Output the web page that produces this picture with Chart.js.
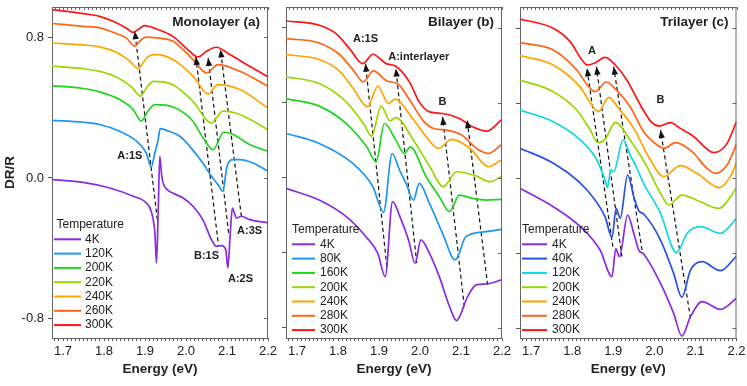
<!DOCTYPE html>
<html>
<head>
<meta charset="utf-8">
<script src="https://cdn.jsdelivr.net/npm/chart.js@4.4.1/dist/chart.umd.min.js"></script>
<style>
  html, body { margin: 0; padding: 0; background: #fff; }
  #wrap { position: relative; width: 747px; height: 386px; }
  #wrap canvas { position: absolute; left: 0; top: 0; }
</style>
</head>
<body>
<div id="wrap">
  <canvas id="panelA" width="747" height="386"></canvas>
  <canvas id="panelB" width="747" height="386"></canvas>
  <canvas id="panelC" width="747" height="386"></canvas>
</div>
<script>
// tick labels
const energyTicks = ['1.7', '1.8', '1.9', '2.0', '2.1', '2.2'];
const monoTicks = [-0.8, 0.0, 0.8];
const multiTicks = [-2, -1, 0, 1, 2];

// (a) monolayer, DR/R vs energy (eV)
const monoTemps = ['4K', '120K', '200K', '220K', '240K', '260K', '300K'];
const monoE4K = [1.673,1.749,1.814,1.871,1.903,1.915,1.924,1.928,1.932,1.936,1.940,1.944,1.956,1.964,1.976,1.993,2.017,2.041,2.062,2.074,2.086,2.097,2.102,2.108,2.113,2.123,2.135,2.155,2.2];
const monoR4K = [-0.009,-0.025,-0.057,-0.104,-0.142,-0.190,-0.313,-0.484,-0.199,0.123,0.028,-0.028,-0.070,-0.082,-0.095,-0.114,-0.161,-0.237,-0.351,-0.389,-0.385,-0.408,-0.512,-0.313,-0.171,-0.228,-0.218,-0.237,-0.256];
const monoE120K = [1.673,1.749,1.789,1.838,1.879,1.903,1.915,1.924,1.932,1.937,1.952,1.985,2.009,2.041,2.062,2.078,2.090,2.100,2.115,2.131,2.163,2.2];
const monoR120K = [0.328,0.317,0.304,0.266,0.209,0.142,0.063,0.142,0.218,0.281,0.271,0.237,0.180,0.085,0.009,-0.038,-0.076,0.066,0.104,0.104,0.085,0.038];
const monoE200K = [1.673,1.749,1.789,1.838,1.871,1.891,1.907,1.924,1.968,2.017,2.041,2.066,2.092,2.115,2.155,2.2];
const monoR200K = [0.526,0.509,0.490,0.446,0.389,0.323,0.380,0.417,0.404,0.323,0.230,0.161,0.260,0.247,0.190,0.152];
const monoE220K = [1.673,1.749,1.789,1.830,1.867,1.889,1.903,1.920,1.968,2.017,2.062,2.090,2.131,2.2];
const monoR220K = [0.636,0.622,0.607,0.575,0.518,0.465,0.512,0.550,0.531,0.436,0.313,0.380,0.361,0.275];
const monoE240K = [1.673,1.749,1.789,1.830,1.863,1.883,1.895,1.911,1.928,1.968,2.017,2.054,2.078,2.131,2.2];
const monoR240K = [0.768,0.757,0.746,0.715,0.664,0.622,0.655,0.696,0.702,0.674,0.579,0.478,0.531,0.503,0.398];
const monoE260K = [1.673,1.749,1.789,1.822,1.854,1.875,1.887,1.903,1.928,1.968,2.017,2.050,2.078,2.131,2.2];
const monoR260K = [0.879,0.863,0.854,0.829,0.797,0.750,0.778,0.801,0.797,0.778,0.674,0.598,0.645,0.607,0.522];
const monoE300K = [1.673,1.749,1.789,1.822,1.854,1.871,1.885,1.899,1.928,1.968,2.009,2.029,2.050,2.074,2.107,2.155,2.2];
const monoR300K = [0.958,0.935,0.920,0.892,0.854,0.829,0.848,0.867,0.848,0.806,0.721,0.689,0.721,0.744,0.702,0.636,0.575];
// dashed arrows: [E start, R start, E tip, R tip]
const monoArrows = [[1.930,-0.237,1.875,0.835],[2.078,-0.361,2.024,0.689],[2.104,-0.313,2.054,0.683],[2.135,-0.218,2.084,0.731]];
const monoNotes = [['A:1S',1.863,0.127],['B:1S',2.050,-0.442],['A:2S',2.133,-0.575],['A:3S',2.155,-0.304]];

// (b) bilayer, offset spectra (arb. units)
const biTemps = ['4K', '80K', '160K', '200K', '240K', '280K', '300K'];
const biE4K = [1.673,1.754,1.820,1.868,1.897,1.915,1.933,1.951,1.972,1.988,2.002,2.023,2.047,2.072,2.089,2.116,2.137,2.161,2.2];
const biR4K = [-0.142,-0.298,-0.520,-0.787,-1.009,-1.320,-0.320,-0.520,-0.831,-1.142,-0.831,-1.009,-1.320,-1.720,-1.907,-1.587,-1.431,-1.418,-1.364];
const biE80K = [1.673,1.754,1.836,1.885,1.911,1.932,1.950,1.966,1.984,1.998,2.023,2.055,2.086,2.112,2.161,2.2];
const biR80K = [0.591,0.458,0.191,-0.120,-0.462,0.324,0.102,-0.076,-0.298,-0.076,-0.342,-0.742,-1.098,-0.787,-0.720,-0.689];
const biE160K = [1.673,1.754,1.820,1.870,1.893,1.913,1.941,1.962,1.976,2.015,2.047,2.072,2.096,2.128,2.163,2.2];
const biR160K = [1.058,0.956,0.724,0.413,0.213,0.724,0.502,0.324,0.413,0.013,-0.253,-0.453,-0.231,-0.276,-0.298,-0.289];
const biE200K = [1.673,1.754,1.820,1.862,1.882,1.905,1.927,1.941,1.984,2.024,2.057,2.089,2.138,2.171,2.2];
const biR200K = [1.347,1.258,1.013,0.724,0.556,0.956,0.760,0.804,0.502,0.147,-0.120,0.080,0.022,-0.053,0.022];
const biE240K = [1.673,1.754,1.803,1.837,1.872,1.897,1.923,1.939,1.982,2.015,2.045,2.077,2.122,2.167,2.2];
const biR240K = [1.644,1.578,1.427,1.191,0.947,1.222,0.991,1.049,0.791,0.547,0.391,0.511,0.391,0.147,0.244];
const biE280K = [1.673,1.754,1.803,1.836,1.862,1.886,1.919,1.947,1.980,2.008,2.033,2.065,2.102,2.138,2.167,2.2];
const biR280K = [1.858,1.800,1.649,1.444,1.280,1.427,1.293,1.249,0.991,0.760,0.658,0.636,0.569,0.391,0.324,0.449];
const biE300K = [1.673,1.754,1.795,1.828,1.860,1.885,1.917,1.941,1.974,1.998,2.023,2.055,2.096,2.128,2.163,2.2];
const biR300K = [2.093,2.036,1.924,1.724,1.524,1.649,1.524,1.489,1.280,1.013,0.880,0.858,0.791,0.680,0.622,0.782];
const biArrows = [[1.919,-1.187,1.867,1.524],[1.992,-1.142,1.941,1.458],[2.108,-1.720,2.055,0.813],[2.165,-1.431,2.115,0.769]];
const biNotes = [['A:1S',1.867,1.858],['A:interlayer',1.997,1.613],['B',2.055,1.013]];

// (c) trilayer
const triTemps = ['4K', '40K', '120K', '200K', '240K', '280K', '300K'];
const triE4K = [1.673,1.754,1.820,1.868,1.897,1.906,1.915,1.935,1.950,1.962,1.974,2.015,2.047,2.067,2.088,2.116,2.161,2.2];
const triR4K = [-0.138,-0.382,-0.649,-0.960,-1.316,-0.942,-1.049,-0.493,-0.738,-0.960,-1.013,-1.404,-1.804,-2.107,-1.849,-1.649,-1.751,-1.604];
const triE40K = [1.673,1.754,1.836,1.880,1.897,1.907,1.917,1.935,1.950,1.962,1.974,2.015,2.047,2.067,2.088,2.116,2.161,2.2];
const triR40K = [0.396,0.196,-0.160,-0.516,-0.791,-0.404,-0.538,0.040,-0.249,-0.436,-0.480,-0.827,-1.271,-1.591,-1.227,-1.116,-1.236,-1.040];
const triE120K = [1.673,1.754,1.820,1.860,1.880,1.886,1.894,1.901,1.924,1.941,1.954,1.974,2.015,2.054,2.080,2.112,2.161,2.2];
const triR120K = [0.907,0.751,0.507,0.240,-0.027,-0.124,0.107,0.084,0.507,0.307,0.173,-0.071,-0.471,-0.996,-0.738,-0.649,-0.738,-0.538];
const triE200K = [1.673,1.754,1.811,1.844,1.863,1.880,1.905,1.941,1.982,2.015,2.035,2.067,2.112,2.157,2.2];
const triR200K = [1.307,1.151,0.907,0.640,0.471,0.516,0.742,0.507,0.151,-0.204,-0.360,-0.227,-0.316,-0.404,-0.138];
const triE240K = [1.673,1.754,1.820,1.848,1.864,1.889,1.913,1.950,1.986,2.023,2.063,2.104,2.157,2.185,2.2];
const triR240K = [1.631,1.507,1.209,0.973,0.884,1.076,0.929,0.662,0.284,0.018,0.164,0.062,-0.129,0.018,0.209];
const triE280K = [1.673,1.754,1.811,1.840,1.856,1.883,1.909,1.941,1.974,2.007,2.024,2.051,2.092,2.128,2.149,2.177,2.2];
const triR280K = [1.804,1.707,1.440,1.218,1.151,1.280,1.164,0.951,0.618,0.440,0.396,0.471,0.351,0.129,0.062,0.173,0.453];
const triE300K = [1.673,1.754,1.795,1.824,1.837,1.854,1.880,1.905,1.933,1.966,1.994,2.013,2.039,2.063,2.096,2.145,2.177,2.2];
const triR300K = [2.120,1.996,1.818,1.573,1.507,1.529,1.609,1.507,1.307,0.973,0.738,0.693,0.738,0.662,0.551,0.338,0.462,0.751];
const triArrows = [[1.899,-0.916,1.836,1.462],[1.921,-1.049,1.859,1.484],[1.970,-0.960,1.901,1.484],[2.088,-1.871,2.015,0.640]];
const triNotes = [['A',1.848,1.698],['B',2.015,1.040]];

const PURPLE = '#8a2be2', SKY = '#1e96f0', BLUE = '#2b50e8', CYAN = '#10d8e0',
      GREEN = '#20d420', LIME = '#98d800', ORANGE = '#ffa500', ORED = '#ff6418', RED = '#ff1414';

const FONT = '"Liberation Sans", Arial, sans-serif';

function curve(label, color, E, R) {
  return {
    label: label,
    data: E.map((e, i) => ({ x: e, y: R[i] })),
    borderColor: color,
    borderWidth: 1.7,
    pointRadius: 0,
    cubicInterpolationMode: 'monotone',
    fill: false
  };
}

function arrow(a) {
  return {
    arrow: true,
    data: [{ x: a[0], y: a[1] }, { x: a[2], y: a[3] }],
    borderColor: '#111',
    borderWidth: 1.2,
    borderDash: [4, 3],
    pointRadius: 0,
    tension: 0
  };
}

// top/right frame with inward ticks
const framePlugin = {
  id: 'frame',
  afterDraw(chart) {
    const { ctx, chartArea: a, scales: { x, y } } = chart;
    ctx.save();
    ctx.strokeStyle = '#666';
    ctx.lineWidth = 1;
    ctx.beginPath();
    ctx.moveTo(a.left, a.top + 0.5); ctx.lineTo(a.right, a.top + 0.5);
    ctx.moveTo(a.right - 0.5, a.top); ctx.lineTo(a.right - 0.5, a.bottom);
    x.ticks.forEach(t => {
      const px = Math.round(x.getPixelForValue(t.value)) + 0.5;
      ctx.moveTo(px, a.top); ctx.lineTo(px, a.top + 3);
    });
    y.ticks.forEach(t => {
      const py = Math.round(y.getPixelForValue(t.value)) + 0.5;
      ctx.moveTo(a.right, py); ctx.lineTo(a.right - 4, py);
    });
    ctx.stroke();
    ctx.restore();
  }
};

function tempLegend(top, dx, l0, l1, tx) {
  return {
    id: 'temps',
    afterDraw(chart) {
      const { ctx, chartArea: a } = chart;
      ctx.save();
      ctx.font = '12px ' + FONT;
      ctx.fillStyle = '#222';
      ctx.textAlign = 'left';
      ctx.textBaseline = 'middle';
      ctx.fillText('Temperature', a.left + dx, top);
      let row = 0;
      chart.data.datasets.forEach(ds => {
        if (ds.arrow) return;
        row++;
        const yy = top + row * 14.3;
        ctx.strokeStyle = ds.borderColor;
        ctx.lineWidth = 2;
        ctx.beginPath();
        ctx.moveTo(a.left + l0, yy); ctx.lineTo(a.left + l1, yy);
        ctx.stroke();
        ctx.fillText(ds.label, a.left + tx, yy);
      });
      ctx.restore();
    }
  };
}

function notesPlugin(notes, title) {
  return {
    id: 'notes',
    afterDatasetsDraw(chart) {
      const { ctx, chartArea: a, scales: { x, y } } = chart;
      ctx.save();
      ctx.fillStyle = '#111';
      chart.data.datasets.forEach((ds, i) => {
        if (!ds.arrow) return;
        const pts = chart.getDatasetMeta(i).data;
        const p0 = pts[0], p1 = pts[1];
        const ang = Math.atan2(p1.y - p0.y, p1.x - p0.x);
        const c = Math.cos(ang), s = Math.sin(ang);
        ctx.beginPath();
        ctx.moveTo(p1.x, p1.y);
        ctx.lineTo(p1.x - 8 * c + 3.2 * s, p1.y - 8 * s - 3.2 * c);
        ctx.lineTo(p1.x - 8 * c - 3.2 * s, p1.y - 8 * s + 3.2 * c);
        ctx.closePath();
        ctx.fill();
      });
      ctx.fillStyle = '#222';
      ctx.textAlign = 'center';
      ctx.textBaseline = 'middle';
      ctx.font = 'bold 11px ' + FONT;
      notes.forEach(n => ctx.fillText(n[0], x.getPixelForValue(n[1]), y.getPixelForValue(n[2])));
      ctx.font = 'bold 13.5px ' + FONT;
      ctx.textAlign = 'right';
      ctx.fillText(title, a.right - 8, a.top + 15);
      ctx.restore();
    }
  };
}

// minor energy ticks every 0.01 eV
const energyMinor = [];
for (let k = 168; k <= 220; k++) energyMinor.push(k / 100);

function panel(id, cfg) {
  const yAxis = {
    min: cfg.yMin, max: cfg.yMax,
    afterBuildTicks: s => { s.ticks = cfg.yTicks.map(v => ({ value: v })); },
    afterFit: s => { s.width = cfg.yWidth; s.paddingTop = 0; s.paddingBottom = 0; },
    ticks: {
      display: cfg.yLabels,
      padding: 4,
      font: { family: FONT, size: 13 },
      color: '#222',
      callback: v => v.toFixed(1)
    },
    grid: { drawOnChartArea: false, tickLength: 4, color: '#555' },
    border: { color: '#666' },
    title: {
      display: cfg.yLabels,
      text: 'DR/R',
      color: '#222',
      font: { family: FONT, size: 13.5, weight: 'bold' },
      padding: { top: 2, bottom: 0 }
    }
  };
  return new Chart(document.getElementById(id), {
    type: 'line',
    data: { datasets: cfg.datasets },
    options: {
      responsive: false,
      animation: false,
      events: [],
      layout: { padding: { left: cfg.left - cfg.yWidth, right: 747 - cfg.right, top: 7, bottom: 0 } },
      plugins: { legend: { display: false }, tooltip: { enabled: false } },
      scales: {
        x: {
          type: 'linear', min: 1.673, max: 2.2,
          afterBuildTicks: s => { s.ticks = energyMinor.map(v => ({ value: v })); },
          afterFit: s => { s.height = 48; s.paddingLeft = 0; s.paddingRight = 0; },
          ticks: {
            autoSkip: false, maxRotation: 0, padding: 3,
            font: { family: FONT, size: 13 },
            color: '#222',
            callback: v => energyTicks.find(t => Math.abs(parseFloat(t) - v) < 1e-6) || ''
          },
          grid: { drawOnChartArea: false, tickLength: 3, color: '#555' },
          border: { color: '#666' },
          title: {
            display: true,
            text: 'Energy (eV)',
            color: '#222',
            font: { family: FONT, size: 13.5, weight: 'bold' },
            padding: { top: 0, bottom: 9 }
          }
        },
        y: yAxis
      }
    },
    plugins: [framePlugin, tempLegend(cfg.legTop, cfg.leg[0], cfg.leg[1], cfg.leg[2], cfg.leg[3]), notesPlugin(cfg.notes, cfg.title)]
  });
}

panel('panelA', {
  left: 52, right: 268, yWidth: 52, yLabels: true,
  yMin: -0.911, yMax: 0.973, yTicks: monoTicks,
  legTop: 225, leg: [4.5, 2, 29, 33],
  notes: monoNotes, title: 'Monolayer (a)',
  datasets: [
    curve(monoTemps[0], PURPLE, monoE4K, monoR4K),
    curve(monoTemps[1], SKY, monoE120K, monoR120K),
    curve(monoTemps[2], GREEN, monoE200K, monoR200K),
    curve(monoTemps[3], LIME, monoE220K, monoR220K),
    curve(monoTemps[4], ORANGE, monoE240K, monoR240K),
    curve(monoTemps[5], ORED, monoE260K, monoR260K),
    curve(monoTemps[6], RED, monoE300K, monoR300K)
  ].concat(monoArrows.map(arrow))
});

panel('panelB', {
  left: 286, right: 502, yWidth: 6, yLabels: false,
  yMin: -2.14, yMax: 2.28, yTicks: multiTicks,
  legTop: 230, leg: [6, 6, 29, 34],
  notes: biNotes, title: 'Bilayer (b)',
  datasets: [
    curve(biTemps[0], PURPLE, biE4K, biR4K),
    curve(biTemps[1], SKY, biE80K, biR80K),
    curve(biTemps[2], GREEN, biE160K, biR160K),
    curve(biTemps[3], LIME, biE200K, biR200K),
    curve(biTemps[4], ORANGE, biE240K, biR240K),
    curve(biTemps[5], ORED, biE280K, biR280K),
    curve(biTemps[6], RED, biE300K, biR300K)
  ].concat(biArrows.map(arrow))
});

panel('panelC', {
  left: 520, right: 736.5, yWidth: 6, yLabels: false,
  yMin: -2.133, yMax: 2.28, yTicks: multiTicks,
  legTop: 230, leg: [2, 2, 27, 32],
  notes: triNotes, title: 'Trilayer (c)',
  datasets: [
    curve(triTemps[0], PURPLE, triE4K, triR4K),
    curve(triTemps[1], BLUE, triE40K, triR40K),
    curve(triTemps[2], CYAN, triE120K, triR120K),
    curve(triTemps[3], LIME, triE200K, triR200K),
    curve(triTemps[4], ORANGE, triE240K, triR240K),
    curve(triTemps[5], ORED, triE280K, triR280K),
    curve(triTemps[6], RED, triE300K, triR300K)
  ].concat(triArrows.map(arrow))
});
</script>
</body>
</html>
